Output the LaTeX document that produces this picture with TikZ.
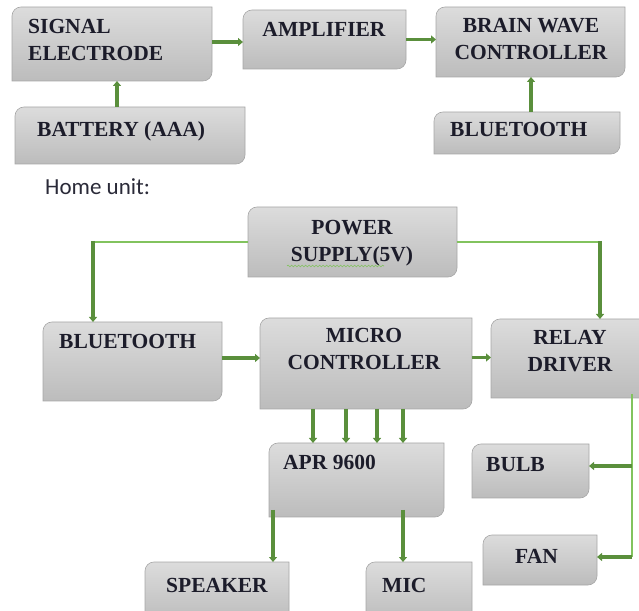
\documentclass[tikz,border=0pt]{standalone}
\usepackage{fontspec}
\setmainfont{Liberation Serif}
\newfontfamily\homefont{Carlito}
\usetikzlibrary{arrows.meta,decorations.pathmorphing}
\definecolor{linkgreen}{HTML}{5A8F3C}
\definecolor{feedgreen}{HTML}{82C35E}
\definecolor{unitedge}{HTML}{A6A6A6}
\definecolor{unittop}{HTML}{DCDCDC}
\definecolor{unitbottom}{HTML}{BCBCBC}
\definecolor{unitink}{HTML}{1C1C2A}
\definecolor{homeink}{HTML}{2A2A38}
\newcommand\unitrad{9pt}
\newcommand\unitshape[1]{%
  \shadedraw[unitfill] (#1.south west) -- ([yshift=-\unitrad]#1.north west)
    arc[start angle=180, end angle=90, radius=\unitrad] -- (#1.north east)
    -- ([yshift=\unitrad]#1.south east)
    arc[start angle=0, end angle=-90, radius=\unitrad] -- cycle;}
\tikzset{
  unit/.style={inner sep=0pt, outer sep=0pt},
  unitfill/.style={top color=unittop, bottom color=unitbottom, draw=unitedge, line width=0.6pt},
  unitlabel/.style={inner sep=0pt, font=\bfseries\fontsize{21.5}{27}\selectfont, text=unitink},
  link/.style={linkgreen, line width=3.8pt, -{Triangle[length=5pt,width=8pt]}},
  feed/.style={feedgreen, line width=1.8pt},
}

\begin{document}
\begin{tikzpicture}[x=1pt, y=1pt]
    \useasboundingbox (0,0) rectangle (639,610);
    \clip (0,0) rectangle (639,610);
    \node[unit, minimum width=200pt, minimum height=74pt] (sig) at (112,566) {};
    \node[unit, minimum width=230pt, minimum height=57pt] (bat) at (130,474.5) {};
    \node[unit, minimum width=163pt, minimum height=59pt] (amp) at (324.5,570.5) {};
    \node[unit, minimum width=189pt, minimum height=70pt] (bwc) at (530.5,568) {};
    \node[unit, minimum width=186pt, minimum height=42pt] (bt1) at (527,477) {};
    \node[unit, minimum width=209pt, minimum height=70pt] (pow) at (352.5,368) {};
    \node[unit, minimum width=179pt, minimum height=79pt] (bt2) at (132.5,248.5) {};
    \node[unit, minimum width=212pt, minimum height=91pt] (mcu) at (366,246.5) {};
    \node[unit, minimum width=158pt, minimum height=79pt] (rel) at (570,251.5) {};
    \node[unit, minimum width=175pt, minimum height=74pt] (apr) at (356.5,130) {};
    \node[unit, minimum width=144pt, minimum height=60pt] (spk) at (217,18) {};
    \node[unit, minimum width=106pt, minimum height=60pt] (mic) at (419,18) {};
    \node[unit, minimum width=117pt, minimum height=54pt] (bulb) at (530.5,139) {};
    \node[unit, minimum width=114pt, minimum height=50pt] (fan) at (540,50) {};
    \foreach \n in {sig,bat,amp,bwc,bt1,pow,bt2,mcu,rel,apr,spk,mic,bulb,fan}
      \unitshape{\n};

    \node[unitlabel, anchor=base west, align=left] (sigtext) at (28,549) {SIGNAL\\ELECTRODE};
    \node[unitlabel, anchor=base] (amptext) at (324,573) {AMPLIFIER};
    \node[unitlabel, anchor=base, align=center] (bwctext) at (531,550) {BRAIN WAVE\\CONTROLLER};
    \node[unitlabel, anchor=base west] (battext) at (37,473) {BATTERY (AAA)};
    \node[unitlabel, anchor=base west] (bt1text) at (450,473) {BLUETOOTH};
    \node[anchor=base west, inner sep=0pt, font=\homefont\fontsize{23}{28}\selectfont, text=homeink] (home) at (45,415) {Home unit:};
    \node[unitlabel, anchor=base, align=center] (powtext) at (352,348) {POWER\\SUPPLY(5V)};
    \node[unitlabel, anchor=base west] (bt2text) at (59,261) {BLUETOOTH};
    \node[unitlabel, anchor=base, align=center] (mcutext) at (364,240) {MICRO\\CONTROLLER};
    \node[unitlabel, anchor=base, align=center] (reltext) at (570,238) {RELAY\\DRIVER};
    \node[unitlabel, anchor=base west] (aprtext) at (283,140) {APR 9600};
    \node[unitlabel, anchor=base west] (spktext) at (166,18) {SPEAKER};
    \node[unitlabel, anchor=base west] (mictext) at (382,18) {MIC};
    \node[unitlabel, anchor=base west] (bulbtext) at (486,138) {BULB};
    \node[unitlabel, anchor=base west] (fantext) at (515,47) {FAN};
    \draw[feedgreen, line width=0.6pt, decorate, decoration={snake, amplitude=0.9pt, segment length=3.5pt}] (287,344) -- (384,344);

    \draw[link] ([xshift=-13pt]bat.north) -- ([xshift=5pt]sig.south);
    \draw[link] ([yshift=2pt]sig.east) -- ([yshift=2pt]sig.east -| amp.west);
    \draw[link] (amp.east) -- (amp.east -| bwc.west);
    \draw[link] ([xshift=4pt]bt1.north) -- ([xshift=4pt]bt1.north |- bwc.south);

    \coordinate (pl) at ([xshift=-39.5pt]bt2.north |- pow.west);
    \coordinate (pr) at ([xshift=30pt]rel.north |- pow.east);
    \draw[feed] (pow.west) -- (pl);
    \draw[feed] (pow.east) -- (pr);
    \draw[link] ([yshift=1pt]pl) -- ([xshift=-39.5pt]bt2.north);
    \draw[link] ([yshift=1pt]pr) -- ([xshift=30pt]rel.north);
    \draw[link] ([yshift=3.5pt]bt2.east) -- ([yshift=3.5pt]bt2.east -| mcu.west);
    \draw[link] ([yshift=6pt]mcu.east) -- ([yshift=6pt]mcu.east -| rel.west);
    \foreach \dx in {-43.5,-10.5,20.5,46.5}
      \draw[link] ([xshift=\dx pt]apr.north |- mcu.south) -- ([xshift=\dx pt]apr.north);
    \draw[link] ([xshift=-83.5pt,yshift=7pt]apr.south) -- ([xshift=-83.5pt]apr.south |- spk.north);
    \draw[link] ([xshift=46.5pt,yshift=7pt]apr.south) -- ([xshift=46.5pt]apr.south |- mic.north);

    \coordinate (rb) at ([xshift=62pt]rel.south);
    \coordinate (re) at ([yshift=3pt]fan.east -| rb);
    \draw[feed] ([yshift=4pt]rb) -- (re);
    \draw[link] ([yshift=5pt]bulb.east -| rb) -- ([yshift=5pt]bulb.east);
    \draw[link] (re) -- ([yshift=3pt]fan.east);
\end{tikzpicture}
\end{document}
